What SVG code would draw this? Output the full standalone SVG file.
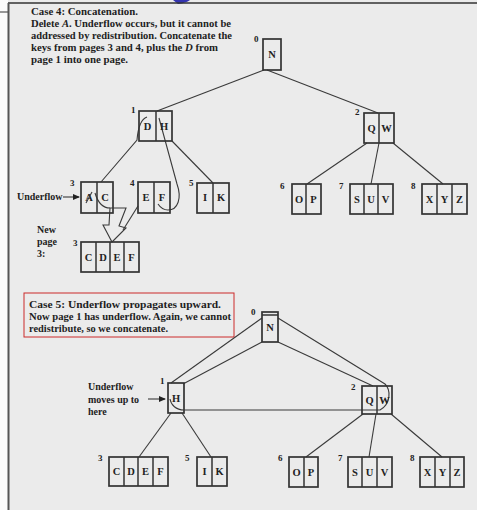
<svg xmlns="http://www.w3.org/2000/svg" width="477" height="510" viewBox="0 0 477 510">
<defs>
<style>
.bg{fill:#ebebeb}
.box{fill:none;stroke:#333;stroke-width:1.7}
.div{stroke:#333;stroke-width:1.5}
.ln{fill:none;stroke:#3a3a3a;stroke-width:1.1}
.k{font-family:"Liberation Serif",serif;font-weight:bold;font-size:10.5px;fill:#222;text-anchor:middle}
.lb{font-family:"Liberation Serif",serif;font-weight:bold;font-size:9px;fill:#222}
.t{font-family:"Liberation Serif",serif;font-weight:bold;font-size:10px;fill:#1e1e1e}
.h{font-family:"Liberation Serif",serif;font-weight:bold;font-size:11px;fill:#1e1e1e}
</style>
<marker id="ah" markerWidth="7" markerHeight="6" refX="6" refY="3" orient="auto" markerUnits="userSpaceOnUse">
<path d="M0,0 L7,3 L0,6 Z" fill="#222"/>
</marker>
</defs>
<rect x="0" y="0" width="477" height="510" class="bg"/>
<rect x="0" y="0" width="8" height="510" fill="#fbfbfb"/>
<path d="M173,0 L190,0 Q186,3 178,4 Z" fill="#3434b0"/>
<line x1="8" y1="3" x2="477" y2="3" stroke="#333" stroke-width="1.5"/>
<line x1="0" y1="12" x2="8" y2="12" stroke="#555" stroke-width="1.2"/>
<line x1="8.5" y1="3" x2="8.5" y2="510" stroke="#555" stroke-width="2"/>

<g id="caption4">
<text class="h" x="31" y="15" textLength="107" lengthAdjust="spacingAndGlyphs">Case 4: Concatenation.</text>
<text class="t" x="31" y="27" textLength="200" lengthAdjust="spacingAndGlyphs">Delete <tspan font-style="italic">A</tspan>. Underflow occurs, but it cannot be</text>
<text class="t" x="31" y="39" textLength="201" lengthAdjust="spacingAndGlyphs">addressed by redistribution. Concatenate the</text>
<text class="t" x="31" y="51" textLength="187" lengthAdjust="spacingAndGlyphs">keys from pages 3 and 4, plus the <tspan font-style="italic">D</tspan> from</text>
<text class="t" x="31" y="63" textLength="97" lengthAdjust="spacingAndGlyphs">page 1  into one page.</text>
</g>

<g id="caption5">
<rect x="24" y="293" width="210" height="44" fill="none" stroke="#cc2a2a" stroke-width="1"/>
<text class="h" x="29" y="308" textLength="192" lengthAdjust="spacingAndGlyphs">Case 5: Underflow propagates upward.</text>
<text class="t" x="29" y="320" textLength="202" lengthAdjust="spacingAndGlyphs">Now page 1 has underflow. Again, we cannot</text>
<text class="t" x="29" y="332" textLength="139" lengthAdjust="spacingAndGlyphs">redistribute, so we concatenate.</text>
</g>

<g id="connectors">
<!-- tree 1 -->
<line class="ln" x1="264" y1="70" x2="157" y2="111"/>
<line class="ln" x1="267" y1="70" x2="378" y2="113"/>
<path class="ln" d="M147,117 C141,119 138,128 137,140 L101,182"/>
<path class="ln" d="M159,118 L177,184 C182,198 178,210 168,210 C163,210 160,207 158,204"/>
<line class="ln" x1="172" y1="141" x2="213" y2="183"/>
<line class="ln" x1="367" y1="143" x2="307" y2="184"/>
<line class="ln" x1="379" y1="143" x2="371" y2="184"/>
<line class="ln" x1="393" y1="143" x2="443" y2="184"/>
<path class="ln" d="M95,193 C98,203 103,208 110,208"/>
<path class="ln" d="M110,208 L126,208 L119,226 L126,228 L112,242 L103,225 L109,225 Z"/>
<line class="ln" x1="138" y1="206" x2="123" y2="230"/>
<line class="ln" x1="63" y1="197" x2="79" y2="197" marker-end="url(#ah)"/>
<!-- tree 2 -->
<line class="ln" x1="262" y1="318" x2="171" y2="383"/>
<line class="ln" x1="262" y1="342" x2="183" y2="384"/>
<line class="ln" x1="278" y1="342" x2="373" y2="386"/>
<path class="ln" d="M278,318 L385,384 C391,390 391,404 380,410 L184,410 C176,410 171,405 170,399"/>
<line class="ln" x1="171" y1="413" x2="139" y2="457"/>
<line class="ln" x1="182" y1="413" x2="211" y2="457"/>
<line class="ln" x1="363" y1="414" x2="306" y2="457"/>
<line class="ln" x1="376" y1="414" x2="369" y2="457"/>
<line class="ln" x1="391" y1="414" x2="442" y2="457"/>
<line class="ln" x1="148" y1="399" x2="165" y2="399" marker-end="url(#ah)"/>
</g>

<g id="labels">
<text class="t" x="17" y="200">Underflow</text>
<text class="t" x="37" y="233">New</text>
<text class="t" x="37" y="245">page</text>
<text class="t" x="37" y="257">3:</text>
<text class="t" x="88" y="390">Underflow</text>
<text class="t" x="88" y="403">moves up to</text>
<text class="t" x="88" y="415">here</text>
</g>

<!-- Tree 1 -->
<g id="t1-n0"><rect class="box" x="263" y="39" width="18" height="31"/><text class="k" x="272" y="58">N</text><text class="lb" x="254" y="42">0</text></g>
<g id="t1-n1"><rect class="box" x="139" y="111" width="33" height="30"/><line class="div" x1="156" y1="111" x2="156" y2="141"/><text class="k" x="147.5" y="130">D</text><text class="k" x="164" y="130">H</text><text class="lb" x="131" y="113">1</text></g>
<g id="t1-n2"><rect class="box" x="364" y="113" width="30" height="30"/><line class="div" x1="379" y1="113" x2="379" y2="143"/><text class="k" x="371.5" y="132">Q</text><text class="k" x="386.5" y="132">W</text><text class="lb" x="355" y="115">2</text></g>
<g id="t1-n3"><rect class="box" x="81" y="182" width="32" height="31"/><line class="div" x1="97" y1="182" x2="97" y2="213"/><text class="k" x="89" y="201">A</text><line class="ln" x1="86" y1="203" x2="92" y2="192"/><text class="k" x="105" y="201">C</text><text class="lb" x="70" y="186">3</text></g>
<g id="t1-n4"><rect class="box" x="138" y="182" width="32" height="31"/><line class="div" x1="154" y1="182" x2="154" y2="213"/><text class="k" x="146" y="201">E</text><text class="k" x="162" y="201">F</text><text class="lb" x="130" y="186">4</text></g>
<g id="t1-n5"><rect class="box" x="197" y="183" width="32" height="30"/><line class="div" x1="213" y1="183" x2="213" y2="213"/><text class="k" x="205" y="201">I</text><text class="k" x="221" y="201">K</text><text class="lb" x="189" y="186">5</text></g>
<g id="t1-n6"><rect class="box" x="292" y="184" width="29" height="30"/><line class="div" x1="306" y1="184" x2="306" y2="214"/><text class="k" x="299" y="203">O</text><text class="k" x="313.5" y="203">P</text><text class="lb" x="280" y="189">6</text></g>
<g id="t1-n7"><rect class="box" x="350" y="184" width="43" height="30"/><line class="div" x1="364" y1="184" x2="364" y2="214"/><line class="div" x1="378" y1="184" x2="378" y2="214"/><text class="k" x="357" y="203">S</text><text class="k" x="371" y="203">U</text><text class="k" x="385.5" y="203">V</text><text class="lb" x="339" y="189">7</text></g>
<g id="t1-n8"><rect class="box" x="422" y="184" width="45" height="30"/><line class="div" x1="437" y1="184" x2="437" y2="214"/><line class="div" x1="452" y1="184" x2="452" y2="214"/><text class="k" x="429.5" y="203">X</text><text class="k" x="444.5" y="203">Y</text><text class="k" x="459.5" y="203">Z</text><text class="lb" x="411" y="189">8</text></g>
<g id="t1-new3"><rect class="box" x="81" y="242" width="58" height="30"/><line class="div" x1="96" y1="242" x2="96" y2="272"/><line class="div" x1="110" y1="242" x2="110" y2="272"/><line class="div" x1="124" y1="242" x2="124" y2="272"/><text class="k" x="88.5" y="261">C</text><text class="k" x="103" y="261">D</text><text class="k" x="117" y="261">E</text><text class="k" x="131.5" y="261">F</text><text class="lb" x="73" y="246">3</text></g>

<!-- Tree 2 -->
<g id="t2-n0"><rect class="box" x="262" y="312" width="16" height="30"/><line class="div" x1="262" y1="315" x2="278" y2="315"/><text class="k" x="270" y="331">N</text><text class="lb" x="251" y="315">0</text></g>
<g id="t2-n1"><rect class="box" x="168" y="383" width="16" height="30"/><text class="k" x="176" y="402">H</text><text class="lb" x="160" y="384">1</text></g>
<g id="t2-n2"><rect class="box" x="362" y="386" width="30" height="28"/><line class="div" x1="377" y1="386" x2="377" y2="414"/><text class="k" x="369.5" y="404">Q</text><text class="k" x="384.5" y="404">W</text><text class="lb" x="351" y="390">2</text></g>
<g id="t2-n3"><rect class="box" x="109" y="457" width="59" height="29"/><line class="div" x1="124" y1="457" x2="124" y2="486"/><line class="div" x1="138" y1="457" x2="138" y2="486"/><line class="div" x1="153" y1="457" x2="153" y2="486"/><text class="k" x="116.5" y="475">C</text><text class="k" x="131" y="475">D</text><text class="k" x="145.5" y="475">E</text><text class="k" x="160.5" y="475">F</text><text class="lb" x="98" y="461">3</text></g>
<g id="t2-n5"><rect class="box" x="197" y="457" width="30" height="29"/><line class="div" x1="212" y1="457" x2="212" y2="486"/><text class="k" x="204.5" y="475">I</text><text class="k" x="219.5" y="475">K</text><text class="lb" x="185" y="461">5</text></g>
<g id="t2-n6"><rect class="box" x="289" y="457" width="29" height="30"/><line class="div" x1="304" y1="457" x2="304" y2="487"/><text class="k" x="296.5" y="476">O</text><text class="k" x="311" y="476">P</text><text class="lb" x="278" y="461">6</text></g>
<g id="t2-n7"><rect class="box" x="348" y="457" width="44" height="30"/><line class="div" x1="362" y1="457" x2="362" y2="487"/><line class="div" x1="377" y1="457" x2="377" y2="487"/><text class="k" x="355" y="476">S</text><text class="k" x="369.5" y="476">U</text><text class="k" x="384.5" y="476">V</text><text class="lb" x="338" y="461">7</text></g>
<g id="t2-n8"><rect class="box" x="420" y="457" width="44" height="30"/><line class="div" x1="435" y1="457" x2="435" y2="487"/><line class="div" x1="450" y1="457" x2="450" y2="487"/><text class="k" x="427.5" y="476">X</text><text class="k" x="442.5" y="476">Y</text><text class="k" x="457" y="476">Z</text><text class="lb" x="410" y="461">8</text></g>
</svg>
